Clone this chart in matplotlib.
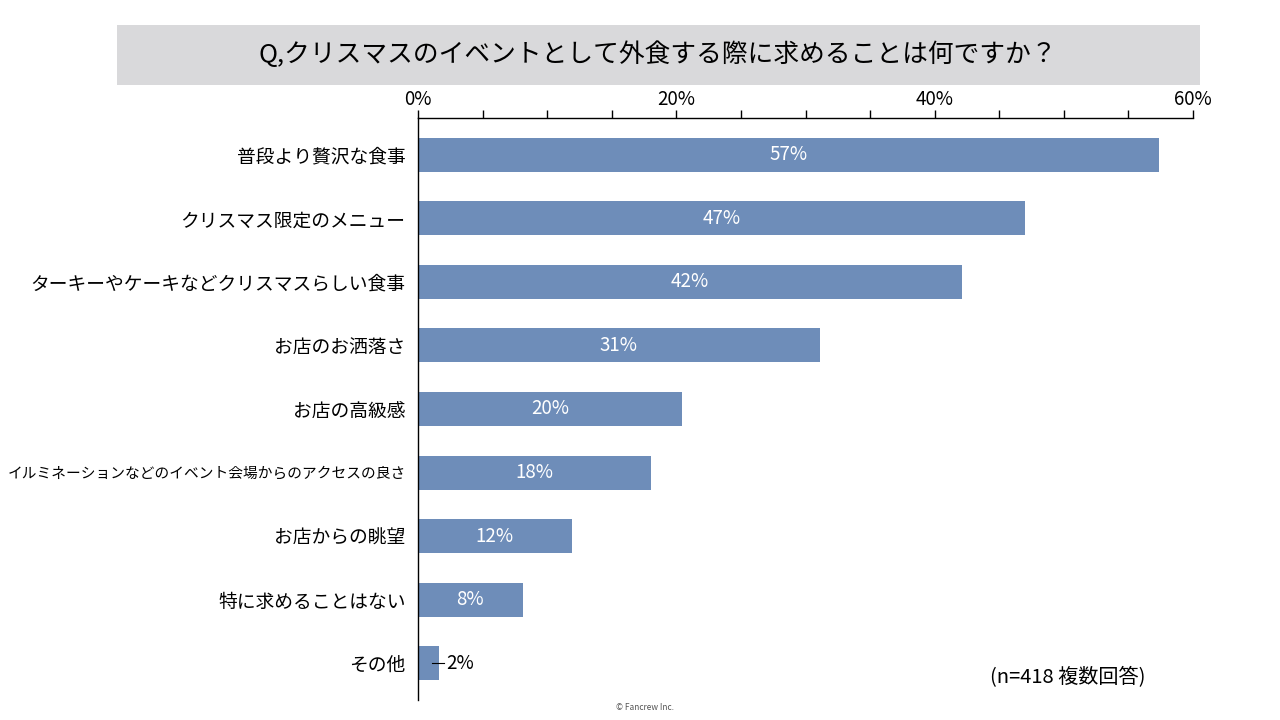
import matplotlib.pyplot as plt
from matplotlib.patches import Rectangle

plt.rcParams['font.family'] = ['Noto Sans CJK JP', 'DejaVu Sans']

# データ
categories = ['普段より贅沢な食事', 'クリスマス限定のメニュー', 'ターキーやケーキなどクリスマスらしい食事',
              'お店のお洒落さ', 'お店の高級感', 'イルミネーションなどのイベント会場からのアクセスの良さ',
              'お店からの眺望', '特に求めることはない', 'その他']
values = [57.4, 47.0, 42.1, 31.1, 20.4, 18.0, 11.9, 8.1, 1.6]
value_labels = ['57%', '47%', '42%', '31%', '20%', '18%', '12%', '8%', '2%']
xticks = [0, 20, 40, 60]
xtick_labels = ['0%', '20%', '40%', '60%']

bar_color = '#6E8DB9'

fig = plt.figure(figsize=(12.8, 7.2), dpi=100)

# タイトル帯
fig.patches.append(Rectangle((117 / 1280, 1 - 85 / 720), (1200 - 117) / 1280, 60 / 720,
                             transform=fig.transFigure, facecolor='#D9D9DB', edgecolor='none'))
fig.text(658 / 1280, 1 - 55 / 720, 'Q,クリスマスのイベントとして外食する際に求めることは何ですか？',
         ha='center', va='center', fontsize=18.5, color='black')

ax = fig.add_axes([418 / 1280, 1 - 700 / 720, 775 / 1280, 582 / 720])
y = list(range(len(categories)))
ax.barh(y, values, height=0.535, color=bar_color)
ax.set_xlim(0, 60)
ax.set_ylim(8.58, -0.58)

# 軸
ax.xaxis.tick_top()
ax.set_xticks(xticks)
ax.set_xticklabels(xtick_labels, fontsize=13.5)
ax.set_xticks(range(0, 61, 5), minor=True)
ax.tick_params(axis='x', which='both', length=6, width=1, direction='out', pad=0)
ax.set_yticks(y)
ax.set_yticklabels(categories, fontsize=13.5)
ax.tick_params(axis='y', length=0, pad=9)
# 長いラベルは縮める
for lab in ax.get_yticklabels():
    if len(lab.get_text()) > 22:
        lab.set_fontsize(10.6)
for s in ['right', 'bottom']:
    ax.spines[s].set_visible(False)
ax.spines['top'].set_linewidth(1)
ax.spines['left'].set_linewidth(1)

# 値ラベル
for i, (v, lab) in enumerate(zip(values, value_labels)):
    if v > 5:
        ax.text(v / 2, i, lab, ha='center', va='center', color='white', fontsize=13.5)
    else:
        ax.plot([v - 0.5, v + 0.4], [i, i], color='black', lw=0.8)
        ax.text(v + 0.6, i, lab, ha='left', va='center', color='black', fontsize=13.5)

fig.text(1068 / 1280, 1 - 678 / 720, '(n=418 複数回答)', ha='center', va='center', fontsize=14.5)
fig.text(645 / 1280, 1 - 708 / 720, '© Fancrew Inc.', ha='center', va='center', fontsize=6, color='#555555')

fig.savefig('out.png', dpi=100)
